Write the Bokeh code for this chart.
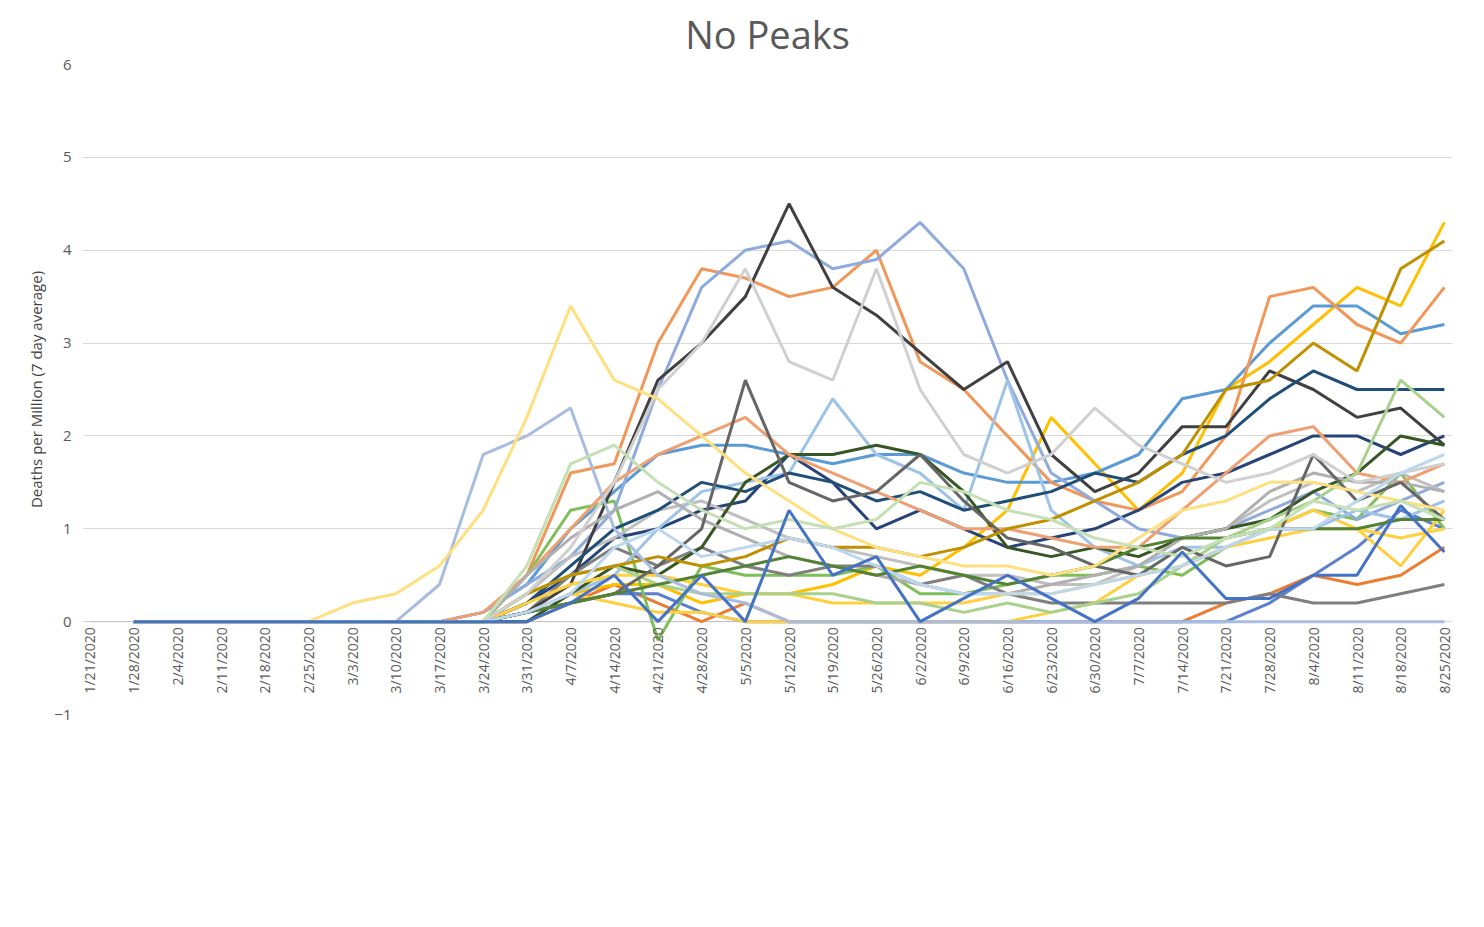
import math
from bokeh.plotting import figure
from bokeh.models import Legend, LegendItem, Range1d, ColumnDataSource, FixedTicker
from bokeh.core.properties import value
from bokeh.embed import file_html
from bokeh.resources import INLINE

tick_labels = ["1/21/2020","1/28/2020","2/4/2020","2/11/2020","2/18/2020","2/25/2020","3/3/2020",
               "3/10/2020","3/17/2020","3/24/2020","3/31/2020","4/7/2020","4/14/2020","4/21/2020",
               "4/28/2020","5/5/2020","5/12/2020","5/19/2020","5/26/2020","6/2/2020","6/9/2020",
               "6/16/2020","6/23/2020","6/30/2020","7/7/2020","7/14/2020","7/21/2020","7/28/2020",
               "8/4/2020","8/11/2020","8/18/2020","8/25/2020"]
tick_days = [7 * i for i in range(len(tick_labels))]
# values sampled weekly from 1/28/2020 to 8/25/2020 (31 points)
sample_days = tick_days[1:]

Z8 = [0] * 8
Z9 = [0] * 9

Alaska = Z9 + [0,0.2,0.4,0.2,0,0.2,0,0,0,0,0,0,0,0,0,0,0.2,0.3,0.5,0.4,0.5,0.8]
Arkansas = Z9 + [0.1,0.3,0.4,0.4,0.2,0.3,0.3,0.4,0.6,0.5,0.8,1.2,2.2,1.7,1.2,1.6,2.5,2.8,3.2,3.6,3.4,4.3]
California = Z8 + [0.1,0.4,1.0,1.4,1.8,1.9,1.9,1.8,1.7,1.8,1.8,1.6,1.5,1.5,1.6,1.8,2.4,2.5,3.0,3.4,3.4,3.1,3.2]
Hawaii = Z9 + [0.1,0.2,0.3,0.3,0.1,0,0,0,0,0,0,0,0,0,0,0,0,0.2,0.5,0.8,1.2,1.0]
Idaho = Z9 + [0.5,1.6,1.7,3.0,3.8,3.7,3.5,3.6,4.0,2.8,2.5,2.0,1.5,1.3,1.2,1.4,2.0,3.5,3.6,3.2,3.0,3.6]
Kansas = Z9 + [0.5,1.2,1.3,-0.2,0.6,0.5,0.5,0.5,0.6,0.3,0.3,0.4,0.5,0.5,0.6,0.5,0.8,1.0,1.2,1.1,1.6,1.0]
Kentucky = Z9 + [0.2,0.5,0.9,1.0,1.2,1.3,1.8,1.5,1.0,1.2,1.0,0.8,0.9,1.0,1.2,1.5,1.6,1.8,2.0,2.0,1.8,2.0]
Maine = Z9 + [0.1,0.5,0.8,0.6,0.8,0.6,0.5,0.6,0.6,0.4,0.5,0.3,0.2,0.2,0.2,0.2,0.2,0.3,0.2,0.2,0.3,0.4]
Minnesota = Z8 + [0.1,0.4,0.7,1.2,2.5,3.6,4.0,4.1,3.8,3.9,4.3,3.8,2.6,1.6,1.3,1.0,0.9,1.0,1.2,1.4,1.1,1.3,1.5]
Missouri = Z9 + [0.3,0.7,0.9,1.2,1.3,1.1,0.9,0.8,0.7,0.6,0.5,0.5,0.4,0.4,0.6,0.9,1.0,1.3,1.5,1.4,1.6,1.4]
Montana = Z9 + [0.1,0.3,0.2,0.1,0.1,0,0,0,0,0,0,0,0.1,0.2,0.5,0.6,0.8,1.0,1.2,1.0,0.6,1.2]
Nebraska = Z9 + [0.1,0.3,0.5,1.0,1.4,1.5,1.6,2.4,1.8,1.6,1.2,2.6,1.2,0.8,0.6,0.8,0.8,1.0,1.0,1.2,1.1,1.3]
New_Mexico = Z9 + [0.1,0.4,1.5,2.6,3.0,3.5,4.5,3.6,3.3,2.9,2.5,2.8,1.8,1.4,1.6,2.1,2.1,2.7,2.5,2.2,2.3,1.9]
North_Carolina = Z9 + [0.2,0.6,1.0,1.2,1.5,1.4,1.6,1.5,1.3,1.4,1.2,1.3,1.4,1.6,1.5,1.8,2.0,2.4,2.7,2.5,2.5,2.5]
North_Dakota = Z9 + [0,0.3,0.6,0.5,0.8,1.5,1.8,1.8,1.9,1.8,1.4,0.8,0.7,0.8,0.7,0.9,1.0,1.1,1.4,1.6,2.0,1.9]
Ohio = Z8 + [0.1,0.5,1.0,1.5,1.8,2.0,2.2,1.8,1.6,1.4,1.2,1.0,1.0,0.9,0.8,0.8,1.2,1.6,2.0,2.1,1.6,1.5,1.7]
Oklahoma = Z9 + [0.5,0.9,1.2,1.4,1.1,0.9,0.7,0.6,0.5,0.4,0.3,0.3,0.4,0.5,0.6,0.9,1.0,1.4,1.6,1.5,1.5,1.4]
Oregon = Z9 + [0.2,0.4,0.5,0.5,0.4,0.3,0.3,0.2,0.2,0.2,0.2,0.3,0.3,0.4,0.5,0.6,0.8,0.9,1.0,1.0,0.9,1.0]
Puerto_Rico = Z9 + [0.3,0.5,0.6,0.4,0.3,0.3,0.3,0.3,0.2,0.2,0.1,0.2,0.1,0.2,0.3,0.6,0.9,1.1,1.3,1.6,2.6,2.2]
South_Dakota = Z9 + [0.1,0.2,0.3,0.6,1.0,2.6,1.5,1.3,1.4,1.8,1.3,0.9,0.8,0.6,0.5,0.8,0.6,0.7,1.8,1.3,1.5,1.1]
Tennessee = Z9 + [0.3,0.5,0.6,0.7,0.6,0.7,0.9,0.8,0.8,0.7,0.8,1.0,1.1,1.3,1.5,1.8,2.5,2.6,3.0,2.7,3.8,4.1]
Utah = Z9 + [0.1,0.2,0.3,0.4,0.5,0.6,0.7,0.6,0.5,0.6,0.5,0.4,0.5,0.6,0.8,0.9,0.9,1.0,1.0,1.0,1.1,1.1]
Vermont = [0,0,0,0,0,0,0,0.4,1.8,2.0,2.3,1.0,0.5,0.3,0.2,0,0,0,0,0,0,0,0,0,0,0,0,0,0,0,0]
Virginia = Z9 + [0.3,0.8,1.5,2.5,3.0,3.8,2.8,2.6,3.8,2.5,1.8,1.6,1.8,2.3,1.9,1.7,1.5,1.6,1.8,1.5,1.6,1.7]
Washington = [0,0,0,0,0,0.2,0.3,0.6,1.2,2.2,3.4,2.6,2.4,2.0,1.6,1.3,1.0,0.8,0.7,0.6,0.6,0.5,0.6,0.9,1.2,1.3,1.5,1.5,1.4,1.3,1.2]
West_Virginia = Z9 + [0.1,0.3,0.8,1.0,0.7,0.8,0.9,0.8,0.6,0.4,0.3,0.3,0.3,0.4,0.5,0.6,0.8,1.0,1.0,1.3,1.6,1.8]
Wisconsin = Z9 + [0.6,1.7,1.9,1.5,1.2,1.0,1.1,1.0,1.1,1.5,1.4,1.2,1.1,0.9,0.8,0.7,0.9,1.0,1.3,1.2,1.3,1.1]
Wyoming = Z9 + [0,0.2,0.5,0,0.5,0,1.2,0.5,0.7,0,0.25,0.5,0.25,0,0.25,0.75,0.25,0.25,0.5,0.5,1.25,0.75]

series = [
    ("Alaska", Alaska, "#ED7D31"), ("Arkansas", Arkansas, "#FFC000"), ("California", California, "#5B9BD5"),
    ("Hawaii", Hawaii, "#5B7FCC"), ("Idaho", Idaho, "#F1975A"), ("Kansas", Kansas, "#7FBF5A"),
    ("Kentucky", Kentucky, "#264478"), ("Maine", Maine, "#7F7F7F"), ("Minnesota", Minnesota, "#8FAADC"),
    ("Missouri", Missouri, "#BFBFBF"), ("Montana", Montana, "#FFCF40"), ("Nebraska", Nebraska, "#9DC3E6"),
    ("New Mexico", New_Mexico, "#404040"), ("North Carolina", North_Carolina, "#1F4E79"),
    ("North Dakota", North_Dakota, "#375623"), ("Ohio", Ohio, "#F0A070"), ("Oklahoma", Oklahoma, "#B0B0B0"),
    ("Oregon", Oregon, "#FFD040"), ("Puerto Rico", Puerto_Rico, "#A9D18E"), ("South Dakota", South_Dakota, "#666666"),
    ("Tennessee", Tennessee, "#BF9000"), ("Utah", Utah, "#548235"), ("Vermont", Vermont, "#A9BDE0"),
    ("Virginia", Virginia, "#D0D0D0"), ("Washington", Washington, "#FFE080"),
    ("West Virginia", West_Virginia, "#BDD7EE"), ("Wisconsin", Wisconsin, "#C5E0B4"), ("Wyoming", Wyoming, "#4472C4"),
]

p = figure(frame_width=1370, frame_height=650, output_backend="svg", toolbar_location=None,
           x_range=Range1d(-1.2, 218.3), y_range=Range1d(-1, 6),
           min_border_left=82, min_border_right=16, min_border_top=30, min_border_bottom=0)
p.title.text = "No Peaks"
p.title.align = "center"
p.title.text_font = "Open Sans"
p.title.text_font_size = "38px"
p.title.text_font_style = "normal"
p.title.text_color = "#595959"
p.outline_line_color = None
p.xaxis.visible = False
p.xgrid.visible = False
p.ygrid.grid_line_color = "#D9D9D9"
p.ygrid.ticker = FixedTicker(ticks=list(range(-1, 7)))
p.yaxis.ticker = FixedTicker(ticks=list(range(-1, 7)))
p.yaxis.axis_line_color = None
p.yaxis.major_tick_line_color = None
p.yaxis.minor_tick_line_color = None
p.yaxis.major_label_text_font_size = "15px"
p.yaxis.major_label_text_color = "#595959"
p.yaxis.major_label_text_font = "Open Sans"
p.yaxis.axis_label = "Deaths per Million (7 day average)"
p.yaxis.axis_label_text_font = "Open Sans"
p.yaxis.axis_label_text_font_size = "15px"
p.yaxis.axis_label_text_font_style = "normal"
p.yaxis.axis_label_text_color = "#404040"

p.line(x=[tick_days[0], tick_days[-1]], y=[0, 0], line_color="#BFBFBF", line_width=1)

items = []
for name, vals, col in series:
    r = p.line(x=sample_days, y=vals, line_color=col, line_width=3)
    items.append(LegendItem(label=name, renderers=[r]))

lab_src = ColumnDataSource(dict(x=tick_days, y=[-0.06] * len(tick_days), t=tick_labels))
p.text(x="x", y="y", text="t", source=lab_src, angle=math.pi / 2, text_align="right",
       text_baseline="middle", text_font=value("Open Sans"), text_font_size="14px", text_color="#595959")

legend = Legend(items=items, ncols=7, orientation="horizontal", location="center",
                label_text_font="Open Sans", label_text_font_size="15px", label_text_color="#595959",
                glyph_width=46, glyph_height=20, label_width=113, label_height=25, label_standoff=2,
                spacing=10, padding=2, border_line_color=None, background_fill_alpha=0)
p.add_layout(legend, "below")

open("out.html", "w").write(file_html(p, INLINE))
